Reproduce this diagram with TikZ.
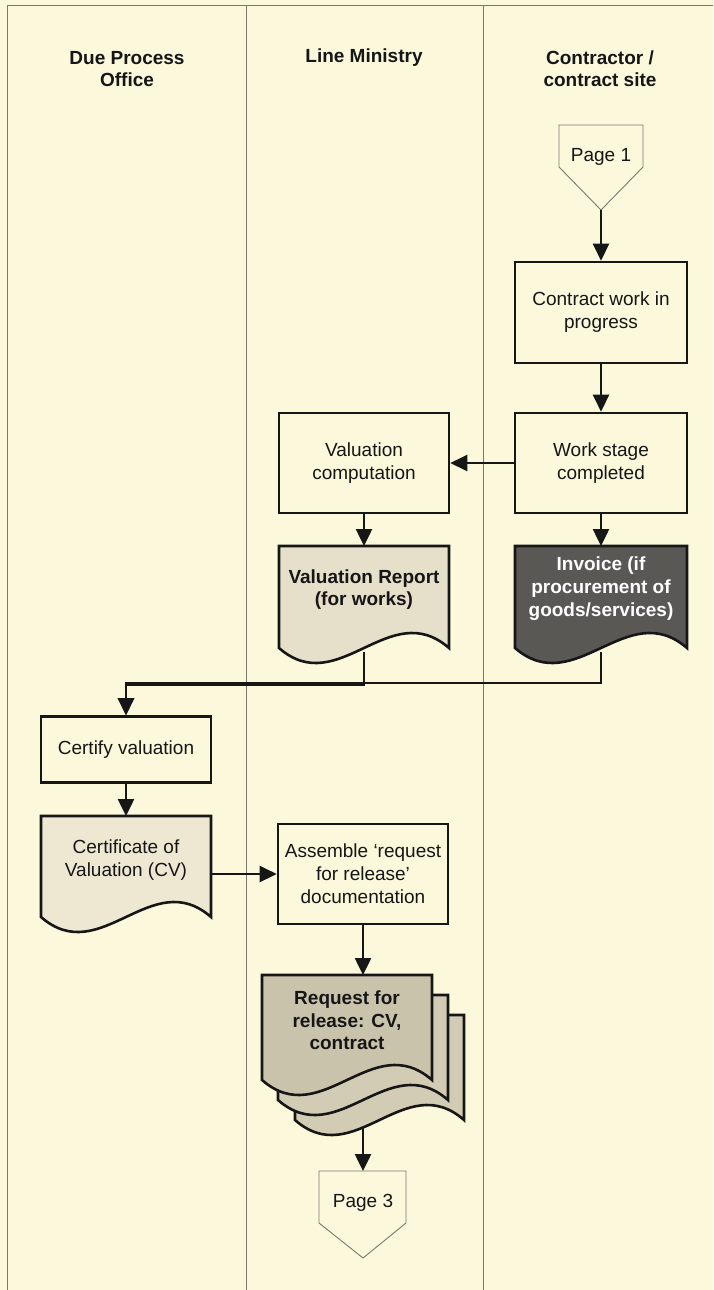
\documentclass[tikz,border=0pt]{standalone}
\usepackage{fontspec}
\setmainfont{Liberation Sans}
\usetikzlibrary{arrows.meta,calc}
\definecolor{bg}{HTML}{FBF8DC}
\definecolor{laneline}{HTML}{7A796F}
\definecolor{inkc}{HTML}{161616}
\definecolor{vrfill}{HTML}{E6DFC9}
\definecolor{cvfill}{HTML}{EEE8D3}
\definecolor{invfill}{HTML}{595855}
\definecolor{rrfill}{HTML}{CAC3AC}
\definecolor{rrback}{HTML}{D3CCB5}
\newcommand\docshape[5]{%
  \draw[docline,fill=#5] (#1,#2) -- (#3,#2) -- (#3,#4)
    .. controls ({#3-0.35*(#3-#1)},{#4-52}) and ({#1+0.35*(#3-#1)},{#4+52}) .. (#1,#4) -- cycle;}
\tikzset{
  txt/.style={font=\fontsize{19}{23}\selectfont, text=inkc, align=center, inner sep=0pt},
  hdr/.style={txt, font=\fontsize{19}{22}\selectfont\bfseries},
  procbox/.style={txt, draw=inkc, line width=2.6pt, fill=bg, minimum width=170pt, minimum height=100pt},
  doctext/.style={txt, anchor=north, minimum width=170pt},
  docline/.style={draw=inkc, line width=2.6pt},
  lane/.style={draw=laneline, line width=0.8pt},
  pageshape/.style={draw=laneline, line width=0.9pt, fill=bg},
  flow/.style={draw=inkc, line width=2.5pt, -{Triangle[length=17pt,width=16pt]}},
}
\begin{document}
\begin{tikzpicture}[x=1pt,y=-1pt]
\useasboundingbox (0,0) rectangle (713,1290);
\fill[bg] (0,0) rectangle (713,1290);
% lanes
\draw[lane] (7,1290) -- (7,5) -- (713,5);
\draw[lane] (246,5) -- (246,1290);
\draw[lane] (483,5) -- (483,1290);
% headers
\node[hdr] (h1) at (127,69) {Due Process\\Office};
\node[hdr] (h2) at (364,58) {Line Ministry};
\node[hdr] (h3) at (600,69) {Contractor /\\contract site};
% page 1
\draw[pageshape] (559,125) -- (643,125) -- (643,167) -- (601,210) -- (559,167) -- cycle;
\node[txt] (p1) at (601,157) {Page 1};
\coordinate (p1tip) at (601,210);
% boxes
\node[procbox, minimum width=172pt, minimum height=101pt] (cwip) at (601,312.5) {Contract work in\\progress};
\node[procbox, minimum width=172pt] (wsc) at (601,463) {Work stage\\completed};
\node[procbox] (vc) at (364,463) {Valuation\\computation};
% documents
\docshape{279}{546}{449}{648}{vrfill}
\node[doctext, minimum height=86pt, font=\fontsize{19}{22}\selectfont\bfseries] (vr) at (364,546) {Valuation Report\\(for works)};
\coordinate (vrout) at (364,652);
\docshape{515}{546}{687}{648}{invfill}
\node[doctext, minimum height=84pt, font=\fontsize{19}{23}\selectfont\bfseries, text=white, minimum width=172pt] (inv) at (601,546) {Invoice (if\\procurement of\\goods/services)};
\coordinate (invout) at (601,652);
% certify
\node[procbox, minimum height=66pt] (cert) at (126,749.5) {Certify valuation};
\docshape{41}{816}{211}{917}{cvfill}
\node[doctext, minimum height=88pt] (cv) at (126,816) {Certificate of\\Valuation (CV)};
\coordinate (cvout) at (211,874);
\node[procbox] (asm) at (363,874) {Assemble ‘request\\for release’\\documentation};
% request for release stack
\docshape{295}{1015}{464}{1120}{rrback}
\docshape{278}{995}{448}{1100}{rrback}
\docshape{262}{975}{432}{1080}{rrfill}
\node[doctext, minimum height=90pt, font=\fontsize{19}{22.5}\selectfont\bfseries] (rr) at (347,975) {Request for\\release: CV,\\contract};
\coordinate (rrout) at (363,1127);
% page 3
\draw[pageshape] (319,1171) -- (406,1171) -- (406,1223) -- (363,1258) -- (319,1223) -- cycle;
\node[txt] (p3) at (363,1203) {Page 3};
\coordinate (p3top) at (363,1171);
% connectors
\draw[flow] (p1tip) -- (cwip.north);
\draw[flow] (cwip.south) -- (wsc.north);
\draw[flow] (wsc.west) -- (vc.east);
\draw[flow] (vc.south) -- (vr.north);
\draw[flow] (wsc.south) -- (inv.north);
\draw[flow] (vrout) -- (vrout |- 0,684.5) -| (cert.north);
\draw[flow] (invout) -- (invout |- 0,683) -| (cert.north);
\draw[flow] (cert.south) -- (cv.north);
\draw[flow] (cvout) -- (asm.west);
\draw[flow] (asm.south) -- (rr.north -| asm.south);
\draw[flow] (rrout) -- (p3top);
\end{tikzpicture}
\end{document}
